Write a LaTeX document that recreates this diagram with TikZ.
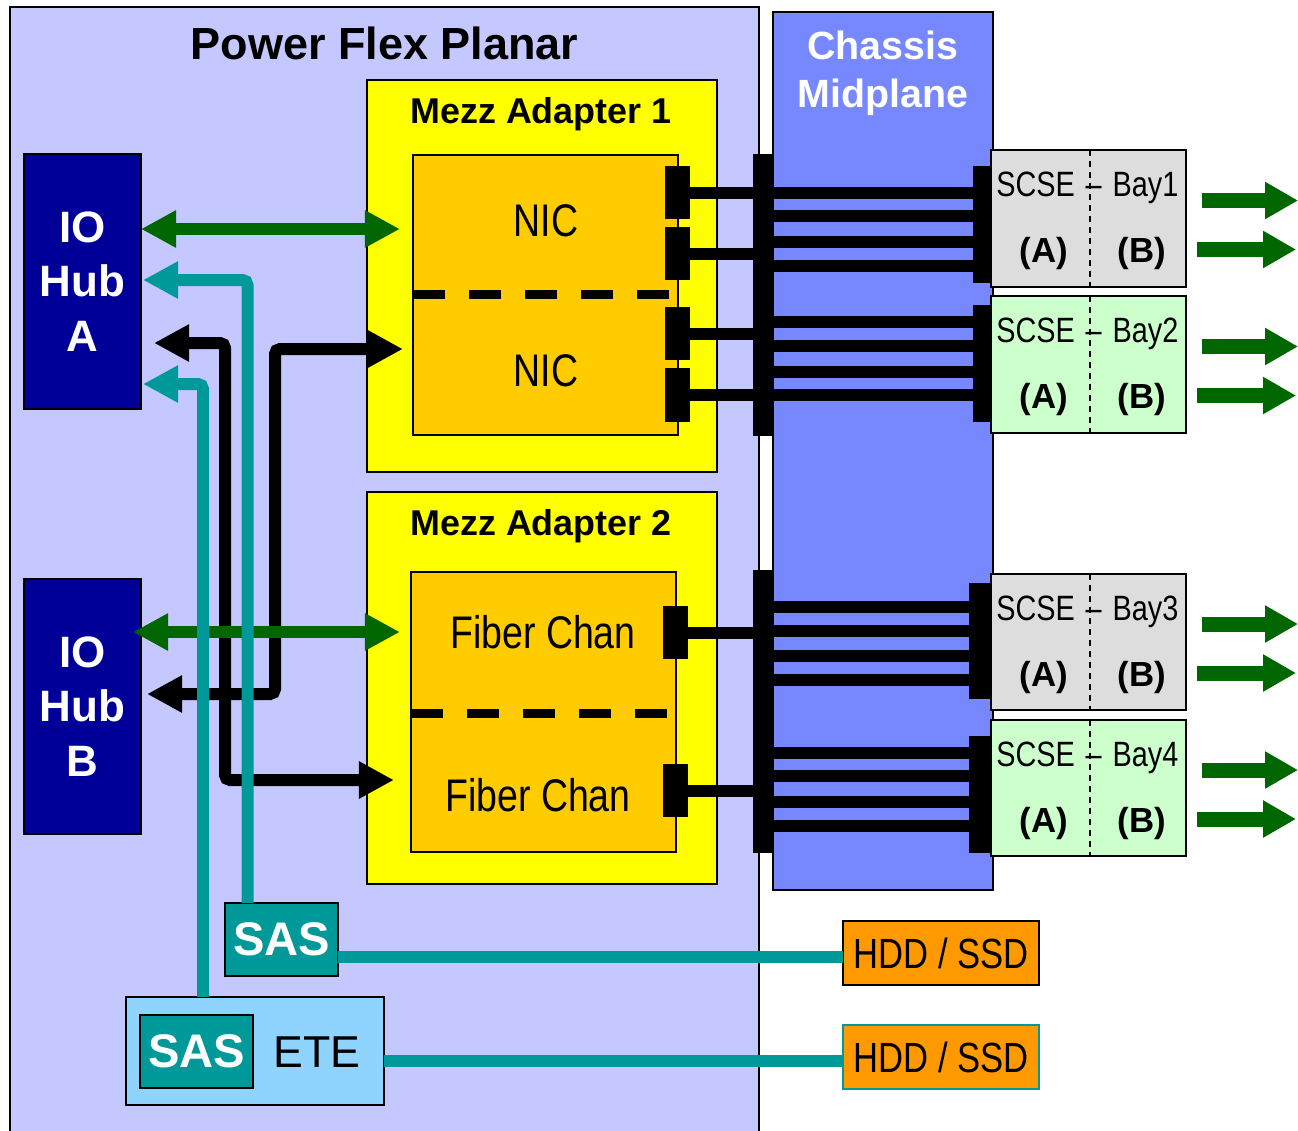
\documentclass[tikz,border=0pt]{standalone}
\usepackage{fontspec}
\setmainfont{Liberation Sans}
\newfontfamily\narrowfont{Liberation Sans}[FakeStretch=0.82]
\usetikzlibrary{arrows.meta,positioning,calc}
\definecolor{planarBlue}{RGB}{196,200,255}
\definecolor{midBlue}{RGB}{119,136,255}
\definecolor{hubBlue}{RGB}{0,0,153}
\definecolor{mezzYellow}{RGB}{255,255,0}
\definecolor{cardOrange}{RGB}{255,204,0}
\definecolor{linkGreen}{RGB}{0,102,0}
\definecolor{sasTeal}{RGB}{0,153,153}
\definecolor{bayGray}{RGB}{221,221,221}
\definecolor{bayGreen}{RGB}{204,255,204}
\definecolor{diskOrange}{RGB}{255,153,0}
\definecolor{eteBlue}{RGB}{143,211,255}

\begin{document}
\begin{tikzpicture}[x=0.01cm, y=-0.01cm,
    bigTip/.tip={Triangle[length=0.35cm, width=0.35cm]},
    outTip/.tip={Triangle[length=0.33cm, width=0.35cm]},
    panel/.style={draw=black, line width=0.6pt, inner sep=0pt, outer sep=0pt},
    title/.style={anchor=base, inner sep=0pt, font=\bfseries\fontsize{12.8pt}{15pt}\selectfont},
    mezztitle/.style={anchor=base, inner sep=0pt, font=\bfseries\fontsize{10.2pt}{12pt}\selectfont},
    cardlabel/.style={inner sep=0pt, font=\narrowfont\fontsize{13pt}{15pt}\selectfont},
    hub/.style={panel, fill=hubBlue, text=white, align=center, minimum width=1.17cm,
      minimum height=2.55cm, font=\bfseries\fontsize{12.5pt}{15.6pt}\selectfont},
    port/.style={fill=black, inner sep=0pt, outer sep=0pt, minimum width=0.25cm, minimum height=0.53cm},
    bar/.style={fill=black, inner sep=0pt, outer sep=0pt, minimum width=0.2cm},
    bus/.style={line width=0.12cm},
    split/.style={line width=0.09cm, dash pattern=on 0.32cm off 0.24cm},
    bay/.style={panel, minimum width=1.95cm, minimum height=1.37cm},
    baysplit/.style={line width=0.5pt, dash pattern=on 0.06cm off 0.05cm},
    baylabel/.style={inner sep=0pt, font=\narrowfont\fontsize{10pt}{12pt}\selectfont},
    side/.style={inner sep=0pt, font=\bfseries\fontsize{9.9pt}{12pt}\selectfont},
    link/.style={draw=linkGreen, line width=0.12cm, bigTip-bigTip},
    outlink/.style={draw=linkGreen, line width=0.15cm, -outTip},
    cable/.style={line width=0.12cm, rounded corners=0.05cm, bigTip-bigTip},
    sasline/.style={draw=sasTeal, line width=0.12cm, rounded corners=0.05cm},
    sas/.style={panel, fill=sasTeal, text=white, minimum width=1.13cm, minimum height=0.73cm,
      font=\bfseries\fontsize{13.4pt}{16pt}\selectfont},
    disk/.style={panel, fill=diskOrange, minimum width=1.96cm, minimum height=0.64cm,
      font=\narrowfont\fontsize{12pt}{14pt}\selectfont}
  ]
  \useasboundingbox (0,0) rectangle (1298,1130);

  \node[panel, fill=planarBlue, minimum width=7.49cm, minimum height=11.33cm] (planar) at (384.5,573.5) {};
  \node[title] (planarTitle) at (384.5,59) {Power Flex Planar};

  \node[panel, fill=midBlue, minimum width=2.2cm, minimum height=8.78cm] (midplane) at (883,451) {};
  \node[inner sep=0pt, text=white, align=center, font=\bfseries\fontsize{11.2pt}{13.7pt}\selectfont]
    (midTitle) at (883,73) {Chassis\\Midplane};

  \node[panel, fill=mezzYellow, minimum width=3.5cm, minimum height=3.92cm] (mezz1) at (542,276) {};
  \node[mezztitle] (mezz1Title) at (541,123) {Mezz Adapter 1};
  \node[panel, fill=cardOrange, minimum width=2.65cm, minimum height=2.8cm] (nic) at (545.5,295) {};
  \draw[split] (nic.west |- 0,294) -- ++(256,0);
  \node[cardlabel] (nicA) at (546,221) {NIC};
  \node[cardlabel] (nicB) at (546,371) {NIC};

  \node[panel, fill=mezzYellow, minimum width=3.5cm, minimum height=3.92cm] (mezz2) at (542,688) {};
  \node[mezztitle] (mezz2Title) at (541,535) {Mezz Adapter 2};
  \node[panel, fill=cardOrange, minimum width=2.65cm, minimum height=2.8cm] (fc) at (543.5,712) {};
  \draw[split] (fc.west |- 0,713) -- ++(258,0);
  \node[cardlabel] (fcA) at (543,632) {Fiber Chan};
  \node[cardlabel] (fcB) at (538,795) {Fiber Chan};

  \node[port] (nicPort1) at (677.5,192.5) {};
  \node[port] (nicPort2) at (677.5,253.5) {};
  \node[port] (nicPort3) at (677.5,333.5) {};
  \node[port] (nicPort4) at (677.5,395) {};
  \node[port] (fcPort1) at (675.5,632.5) {};
  \node[port] (fcPort2) at (675.5,790.5) {};

  \node[bar, minimum height=2.82cm] (bar1) at (763,295) {};
  \node[bar, minimum height=2.83cm] (bar2) at (763,711.5) {};
  \foreach \p in {nicPort1,nicPort2,nicPort3,nicPort4}
    \draw[bus] (\p.center) -- (\p.center -| bar1.center);
  \foreach \p in {fcPort1,fcPort2}
    \draw[bus] (\p.center) -- (\p.center -| bar2.center);

  \node[bay, fill=bayGray] (bay1) at (1088.5,218.5) {};
  \node[bay, fill=bayGreen] (bay2) at (1088.5,364.5) {};
  \node[bay, fill=bayGray, minimum height=1.36cm] (bay3) at (1088.5,642) {};
  \node[bay, fill=bayGreen, minimum height=1.36cm] (bay4) at (1088.5,788) {};

  \node[bar, minimum width=0.19cm, minimum height=1.17cm] (bay1Port) at (982.5,224.5) {};
  \node[bar, minimum width=0.19cm, minimum height=1.17cm] (bay2Port) at (982.5,363.5) {};
  \node[bar, minimum width=0.23cm, minimum height=1.16cm] (bay3Port) at (980.5,641) {};
  \node[bar, minimum width=0.23cm, minimum height=1.17cm] (bay4Port) at (980.5,794.5) {};

  \foreach \y in {193,216,242,266}
    \draw[bus] (bar1.center |- 0,\y) -- (bay1Port.center |- 0,\y);
  \foreach \y in {322,346,371.5,394.5}
    \draw[bus] (bar1.center |- 0,\y) -- (bay2Port.center |- 0,\y);
  \foreach \y in {607,631,656,680}
    \draw[bus] (bar2.center |- 0,\y) -- (bay3Port.center |- 0,\y);
  \foreach \y in {753,776,802,826}
    \draw[bus] (bar2.center |- 0,\y) -- (bay4Port.center |- 0,\y);

  \foreach \b/\n in {bay1/1,bay2/2,bay3/3,bay4/4} {
    \draw[baysplit] ($(\b.north)+(1.5,0)$) -- ($(\b.south)+(1.5,0)$);
    \node[baylabel, anchor=base east] (\b-scse) at ($(\b.center)+(-13,-22)$) {SCSE};
    \node[baylabel, anchor=base] (\b-dash) at ($(\b.center)+(5,-22)$) {–};
    \node[baylabel, anchor=base west] (\b-name) at ($(\b.center)+(23.5,-22)$) {Bay\n};
    \node[side] (\b-a) at ($(\b.center)+(-44.5,35)$) {(A)};
    \node[side] (\b-b) at ($(\b.center)+(53.5,35)$) {(B)};
    \draw[outlink] ($(\b.east)+(16,-18)$) -- ++(96,0);
    \draw[outlink] ($(\b.east)+(11,31)$) -- ++(99,0);
  }

  \node[hub] (hubA) at (82.5,281.5) {IO\\Hub\\A};
  \node[hub] (hubB) at (82.5,706.5) {IO\\Hub\\B};

  \node[panel, fill=eteBlue, minimum width=2.58cm, minimum height=1.08cm] (ete) at (255,1051) {};
  \node[sas] (eteSas) at (196.5,1051.5) {SAS};
  \node[inner sep=0pt, font=\fontsize{12.7pt}{15pt}\selectfont] (eteLabel) at (317,1052) {ETE};
  \node[sas] (sas) at (281.5,939.5) {SAS};

  \node[disk] (hdd1) at (941,953) {HDD / SSD};
  \node[disk, draw=sasTeal] (hdd2) at (941,1057) {HDD / SSD};

  \draw[cable] ($(hubA.east |- 0,343)+(13,0)$) -| (225,780) -- ($(fc.west |- 0,780)+(-17,0)$);
  \draw[cable] ($(hubB.east |- 0,694)+(6,0)$) -| (275,349) -- ($(nic.west |- 0,349)+(-10,0)$);

  \draw[link] (hubA.east |- 0,229) -- ($(nic.west |- 0,229)+(-13,0)$);
  \draw[link] ($(hubB.east |- 0,632)+(-8,0)$) -- ($(fc.west |- 0,632)+(-11,0)$);

  \draw[sasline, -bigTip] ($(sas.north)+(-34,0)$) |- ($(hubA.east |- 0,280)+(2,0)$);
  \draw[sasline, -bigTip] ($(ete.north)+(-52,0)$) |- ($(hubA.east |- 0,384)+(2,0)$);
  \draw[sasline] (sas.east |- 0,957) -- (hdd1.west |- 0,957);
  \draw[sasline] (ete.east |- 0,1061) -- (hdd2.west |- 0,1061);
\end{tikzpicture}
\end{document}
